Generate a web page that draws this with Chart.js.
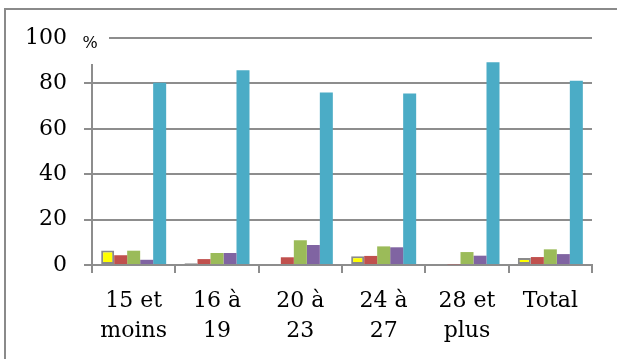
<!DOCTYPE html>
<html>
<head>
<meta charset="utf-8">
<script src="https://cdn.jsdelivr.net/npm/chart.js@4/dist/chart.umd.min.js"></script>
<style>
  html, body { margin: 0; padding: 0; background: #ffffff; }
  #wrap { width: 617px; height: 359px; position: relative; }
</style>
</head>
<body>
<div id="wrap"><canvas id="c" width="617" height="359"></canvas></div>
<script>
// Age groups (x axis)
const categories = [["15 et", "moins"], ["16 à", "19"], ["20 à", "23"], ["24 à", "27"], ["28 et", "plus"], ["Total"]];

// Percentages per series
const serie1 = [6.4, 0.8, 0.4, 3.8, 0, 3.1];
const serie2 = [4.3, 2.6, 3.4, 4.0, 0.3, 3.5];
const serie3 = [6.3, 5.3, 10.9, 8.2, 5.7, 6.9];
const serie4 = [2.3, 5.3, 8.8, 7.8, 4.1, 4.8];
const serie5 = [80.3, 85.8, 76.0, 75.6, 89.3, 81.2];

// Y axis ticks
const yTicks = [0, 20, 40, 60, 80, 100];
const unitLabel = "%";

const GRID = "#8d8d8d";
const FONT = "'DejaVu Serif', 'Liberation Serif', serif";

// Outer frame (top and left edges) and the unit label box near the top of the y axis
const framePlugin = {
  id: "frame",
  beforeDraw(chart) {
    const ctx = chart.ctx;
    ctx.save();
    ctx.strokeStyle = "#8a8a8a";
    ctx.lineWidth = 2;
    ctx.beginPath();
    ctx.moveTo(5, 359);
    ctx.lineTo(5, 9);
    ctx.lineTo(617, 9);
    ctx.stroke();
    ctx.restore();
  },
  afterDraw(chart) {
    const ctx = chart.ctx;
    const left = chart.chartArea.left;
    const y100 = chart.scales.y.getPixelForValue(100);
    ctx.save();
    ctx.fillStyle = "#ffffff";
    ctx.fillRect(left - 20, y100 - 14, 37, 40);
    ctx.fillStyle = "#000000";
    ctx.font = "16px " + FONT;
    ctx.textAlign = "center";
    ctx.textBaseline = "middle";
    ctx.fillText(unitLabel, left - 2, y100 + 6);
    ctx.restore();
  }
};

const ds = (label, data, color, border) => ({
  label,
  data,
  backgroundColor: color,
  borderColor: border || color,
  borderWidth: border ? 2 : 0,
  borderSkipped: border ? false : "start"
});

new Chart(document.getElementById("c"), {
  type: "bar",
  data: {
    labels: categories,
    datasets: [
      ds("Série 1", serie1, "#ffff00", "#8a8a8a"),
      ds("Série 2", serie2, "#c0504d"),
      ds("Série 3", serie3, "#9bbb59"),
      ds("Série 4", serie4, "#8064a2"),
      ds("Série 5", serie5, "#4bacc6")
    ]
  },
  options: {
    responsive: false,
    animation: false,
    events: [],
    layout: { padding: { left: 0, right: 25, top: 38, bottom: 0 } },
    datasets: { bar: { barPercentage: 1, categoryPercentage: 0.78 } },
    plugins: { legend: { display: false }, tooltip: { enabled: false } },
    scales: {
      x: {
        offset: true,
        grid: { display: true, drawOnChartArea: false, drawTicks: true, tickLength: 8, offset: true, color: GRID, lineWidth: 2 },
        border: { display: true, color: GRID, width: 2 },
        ticks: { color: "#000", font: { family: FONT, size: 22, lineHeight: 1.364 }, padding: 13, maxRotation: 0, autoSkip: false },
        afterFit(scale) { scale.height = 94; }
      },
      y: {
        min: 0,
        max: 100,
        afterBuildTicks(scale) { scale.ticks = yTicks.map(v => ({ value: v })); },
        grid: { color: GRID, lineWidth: 2, tickLength: 8, drawTicks: true },
        border: { display: true, color: GRID, width: 2 },
        ticks: { color: "#000", font: { family: FONT, size: 22 }, padding: 17 },
        afterFit(scale) { scale.width = 92; }
      }
    }
  },
  plugins: [framePlugin]
});
</script>
</body>
</html>
